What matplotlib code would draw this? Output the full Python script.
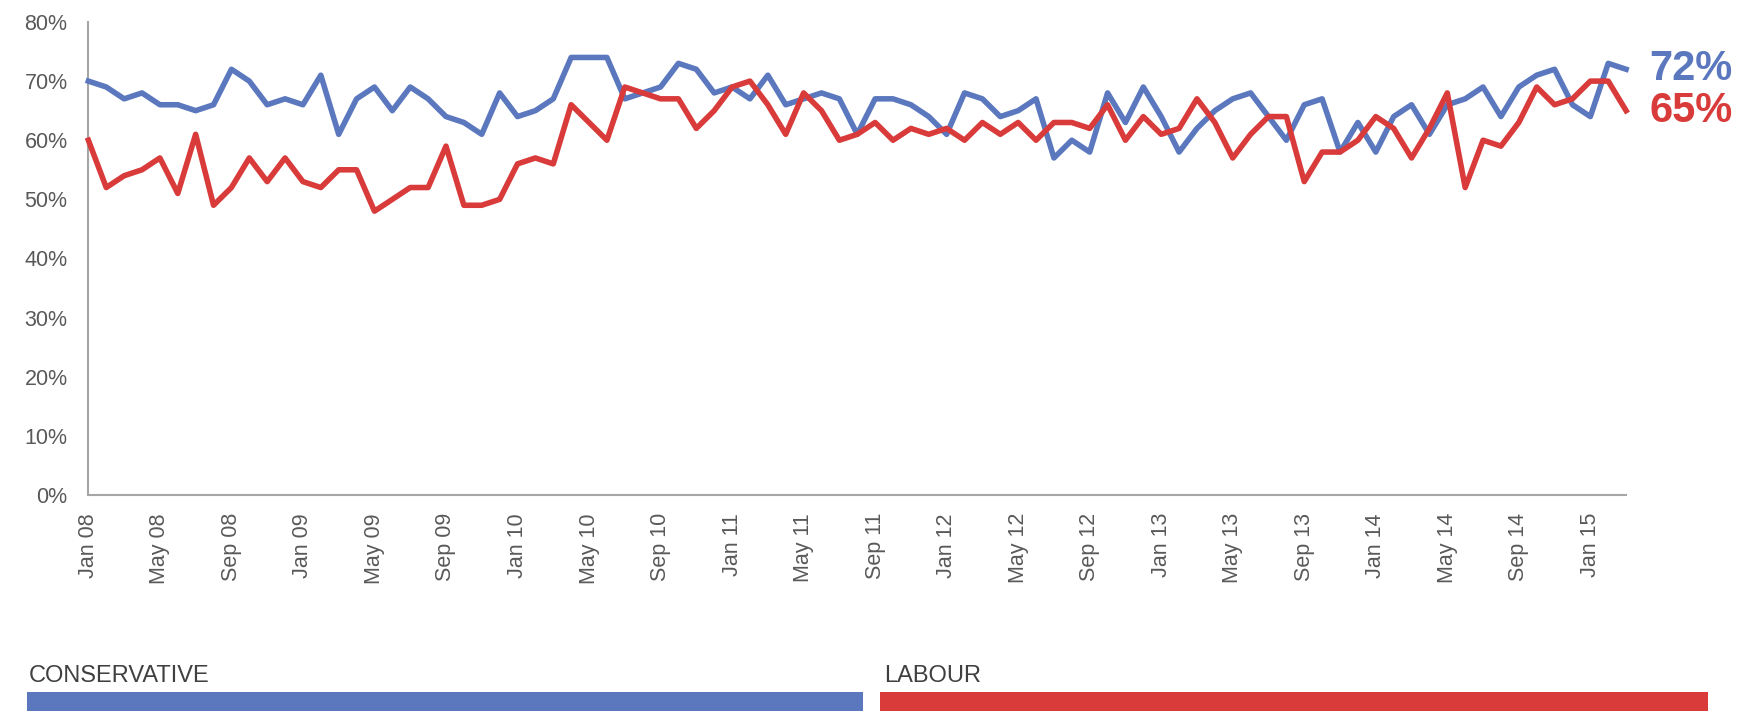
import matplotlib
matplotlib.use('Agg')
import matplotlib.pyplot as plt
from matplotlib.patches import Rectangle

plt.rcParams['font.family'] = ['Liberation Sans', 'DejaVu Sans']

# monthly, Jan 08 - Mar 15
tick_labels = ['Jan 08', 'May 08', 'Sep 08', 'Jan 09', 'May 09', 'Sep 09', 'Jan 10', 'May 10',
               'Sep 10', 'Jan 11', 'May 11', 'Sep 11', 'Jan 12', 'May 12', 'Sep 12', 'Jan 13',
               'May 13', 'Sep 13', 'Jan 14', 'May 14', 'Sep 14', 'Jan 15']

conservative = [70, 69, 67, 68, 66, 66, 65, 66, 72, 70, 66, 67, 66, 71, 61, 67, 69, 65, 69, 67,
                64, 63, 61, 68, 64, 65, 67, 74, 74, 74, 67, 68, 69, 73, 72, 68, 69, 67, 71, 66, 67,
                68, 67, 61, 67, 67, 66, 64, 61, 68, 67, 64, 65, 67, 57, 60, 58, 68, 63, 69, 64, 58, 62,
                65, 67, 68, 64, 60, 66, 67, 58, 63, 58, 64, 66, 61, 66, 67, 69, 64, 69, 71, 72, 66, 64, 73, 72]

labour = [60, 52, 54, 55, 57, 51, 61, 49, 52, 57, 53, 57, 53, 52, 55, 55, 48, 50, 52, 52,
          59, 49, 49, 50, 56, 57, 56, 66, 63, 60, 69, 68, 67, 67, 62, 65, 69, 70, 66, 61, 68,
          65, 60, 61, 63, 60, 62, 61, 62, 60, 63, 61, 63, 60, 63, 63, 62, 66, 60, 64, 61, 62, 67,
          63, 57, 61, 64, 64, 53, 58, 58, 60, 64, 62, 57, 62, 68, 52, 60, 59, 63, 69, 66, 67, 70, 70, 65]

legend_names = ['CONSERVATIVE', 'LABOUR']

BLUE = '#5B78BE'
RED = '#D93A3A'
GREY = '#595959'

x = list(range(len(conservative)))

fig = plt.figure(figsize=(17.5, 7.11), dpi=100)
ax = fig.add_axes([0.0505, 0.3038, 0.8787, 0.6653])

ax.plot(x, conservative, color=BLUE, lw=4, solid_joinstyle='round', clip_on=False, zorder=3)
ax.plot(x, labour, color=RED, lw=4, solid_joinstyle='round', clip_on=False, zorder=4)

ax.set_xlim(0, len(x) - 1)
ax.set_ylim(0, 80)
ax.set_yticks(range(0, 81, 10))
ax.set_yticklabels(['{}%'.format(v) for v in range(0, 81, 10)])
ax.set_xticks(x[::4])
ax.set_xticklabels(tick_labels, rotation=90)
ax.tick_params(axis='both', length=0, labelsize=15.5, colors=GREY)
ax.tick_params(axis='y', pad=15)
ax.tick_params(axis='x', pad=13)

for side in ['top', 'right']:
    ax.spines[side].set_visible(False)
for side in ['left', 'bottom']:
    ax.spines[side].set_color('#A6A6A6')
    ax.spines[side].set_linewidth(1.5)

# end-of-line labels
ax.annotate('{}%'.format(conservative[-1]), xy=(x[-1], conservative[-1]), xytext=(17, 0),
            textcoords='offset points', color=BLUE, fontsize=30, fontweight='bold',
            va='center', ha='left', annotation_clip=False)
ax.annotate('{}%'.format(labour[-1]), xy=(x[-1], labour[-1]), xytext=(17, 0),
            textcoords='offset points', color=RED, fontsize=30, fontweight='bold',
            va='center', ha='left', annotation_clip=False)

# legend bars along the bottom
fig.patches.append(Rectangle((0.0154, 0), 0.4777, 0.027, transform=fig.transFigure,
                             facecolor=BLUE, edgecolor='none'))
fig.patches.append(Rectangle((0.5029, 0), 0.4731, 0.027, transform=fig.transFigure,
                             facecolor=RED, edgecolor='none'))
fig.text(0.0165, 0.041, legend_names[0], fontsize=17, color='#404040', va='baseline')
fig.text(0.5055, 0.041, legend_names[1], fontsize=17, color='#404040', va='baseline')

fig.savefig('out.png', dpi=100)
